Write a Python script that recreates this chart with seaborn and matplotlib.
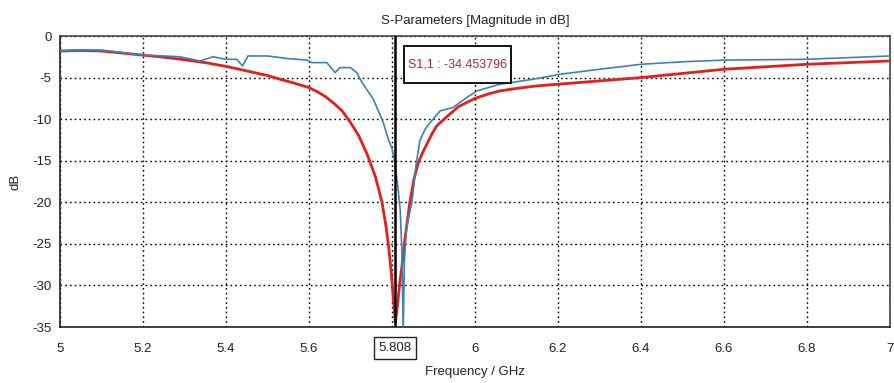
import matplotlib
matplotlib.use("Agg")
import matplotlib.pyplot as plt
from matplotlib.patches import Rectangle
import seaborn as sns
import pandas as pd

# ---- data ----
sim_freq = [5.00, 5.05, 5.10, 5.15, 5.20, 5.25, 5.30, 5.35, 5.40, 5.45, 5.50, 5.53, 5.56,
            5.58, 5.60, 5.62, 5.64, 5.66, 5.68, 5.70, 5.72, 5.74, 5.76, 5.776, 5.785,
            5.792, 5.798, 5.804, 5.808, 5.812, 5.818, 5.824, 5.831, 5.843, 5.853, 5.863,
            5.873, 5.884, 5.896, 5.908, 5.93, 5.96, 6.00, 6.03, 6.06, 6.10, 6.15, 6.20,
            6.30, 6.40, 6.50, 6.60, 6.70, 6.80, 6.90, 7.00]
sim_db = [-1.8, -1.75, -1.8, -2.05, -2.3, -2.55, -2.85, -3.2, -3.65, -4.2, -4.75, -5.2, -5.6,
          -5.9, -6.2, -6.7, -7.3, -8.1, -9.0, -10.4, -12.0, -14.2, -16.9, -20.0, -22.7,
          -25.3, -28.3, -32.0, -34.45, -33.0, -30.0, -27.7, -24.5, -20.0, -17.2, -15.3,
          -14.1, -13.0, -11.8, -10.8, -9.8, -8.5, -7.5, -7.0, -6.6, -6.3, -6.0, -5.8,
          -5.4, -5.0, -4.5, -4.0, -3.7, -3.4, -3.2, -3.0]

meas_freq = [5.00, 5.05, 5.10, 5.15, 5.20, 5.25, 5.289, 5.337, 5.369, 5.40, 5.426, 5.44,
             5.453, 5.50, 5.546, 5.595, 5.607, 5.643, 5.663, 5.675, 5.70, 5.715, 5.728,
             5.755, 5.779, 5.791, 5.80, 5.807, 5.815, 5.82, 5.824, 5.827, 5.83, 5.835,
             5.848, 5.858, 5.867, 5.88, 5.892, 5.916, 5.947, 5.98, 6.005, 6.06, 6.14,
             6.205, 6.30, 6.40, 6.50, 6.60, 6.70, 6.80, 6.90, 7.00]
meas_db = [-1.8, -1.7, -1.7, -2.0, -2.3, -2.4, -2.5, -3.0, -2.5, -2.8, -2.8, -3.6,
           -2.4, -2.4, -2.7, -2.9, -3.2, -3.2, -4.4, -3.8, -3.8, -4.4, -5.6,
           -7.6, -10.4, -12.4, -13.5, -15.2, -18.5, -21.0, -26.0, -35.5, -27.0, -23.0,
           -20.0, -15.5, -12.6, -11.2, -10.4, -9.0, -8.6, -7.4, -6.6, -5.8, -5.2,
           -4.6, -4.0, -3.4, -3.1, -2.9, -2.85, -2.8, -2.6, -2.4]

x_ticks = [5.0, 5.2, 5.4, 5.6, 5.8, 6.0, 6.2, 6.4, 6.6, 6.8, 7.0]
x_tick_labels = ["5", "5.2", "5.4", "5.6", "", "6", "6.2", "6.4", "6.6", "6.8", "7"]
y_ticks = [0, -5, -10, -15, -20, -25, -30, -35]
y_tick_labels = ["0", "-5", "-10", "-15", "-20", "-25", "-30", "-35"]

marker_freq = 5.808
marker_label = "5.808"
marker_text = "S1,1 : -34.453796"
title = "S-Parameters [Magnitude in dB]"

# ---- plot ----
sns.set_style("white")
plt.rcParams["font.family"] = ["Liberation Sans", "DejaVu Sans"]

fig = plt.figure(figsize=(8.95, 3.83), dpi=100)
ax = fig.add_axes([0.067, 0.146, 0.9274, 0.760])

df_meas = pd.DataFrame({"f": meas_freq, "db": meas_db})
df_sim = pd.DataFrame({"f": sim_freq, "db": sim_db})

sns.lineplot(data=df_sim, x="f", y="db", ax=ax, color="#e3201c", linewidth=2.0,
             sort=False, estimator=None, zorder=3)
sns.lineplot(data=df_meas, x="f", y="db", ax=ax, color="#3c82b8", linewidth=1.2,
             sort=False, estimator=None, zorder=4)

ax.axvline(marker_freq, color="black", linewidth=1.8, zorder=5)

ax.set_xlim(5.0, 7.0)
ax.set_ylim(-35, 0)
ax.set_xticks(x_ticks)
ax.set_xticklabels(x_tick_labels)
ax.set_yticks(y_ticks)
ax.set_yticklabels(y_tick_labels)
ax.tick_params(axis="both", direction="inout", length=5, width=1, colors="#333333",
               labelsize=9.5, labelcolor="#222222")
ax.tick_params(axis="x", pad=9)

ax.grid(True, color="black", linestyle=(0, (1.2, 2.2)), linewidth=1.0, zorder=1)
for s in ax.spines.values():
    s.set_color("#444444")
    s.set_linewidth(1.2)
ax.spines["left"].set_color("#222222")
ax.spines["bottom"].set_color("#222222")

ax.set_title(title, fontsize=9.5, color="#222222", pad=9)
ax.set_xlabel("Frequency / GHz", fontsize=9.5, color="#222222", labelpad=8)
ax.set_ylabel("dB", fontsize=9.5, color="#222222", labelpad=8)

# boxed marker tick label
ax.annotate(marker_label, xy=(marker_freq, 0), xycoords=("data", "axes fraction"),
            xytext=(0, -15), textcoords="offset points", ha="center", va="center",
            fontsize=9.5, color="#222222",
            bbox=dict(boxstyle="square,pad=0.35", fc="white", ec="#222222", lw=1.0))

# marker value box
box = Rectangle((0.4145, 0.8385), 0.129, 0.127, transform=ax.transAxes,
                fc="white", ec="#111111", lw=1.4, zorder=6)
ax.add_patch(box)
ax.text(0.4145 + 0.129 / 2, 0.8385 + 0.127 / 2, marker_text, transform=ax.transAxes,
        ha="center", va="center", fontsize=9, color="#b0283a", zorder=7)

fig.savefig("out.png", dpi=100, facecolor="white")
